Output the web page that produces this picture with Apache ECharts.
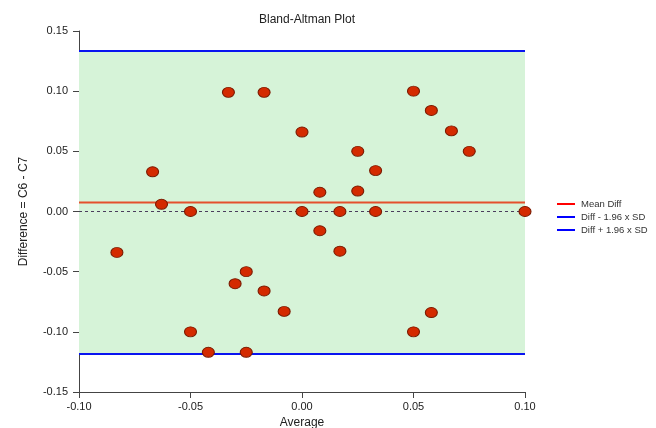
<!DOCTYPE html>
<html>
<head>
<meta charset="utf-8">
<script src="https://cdn.jsdelivr.net/npm/echarts@6/dist/echarts.min.js"></script>
<style>html,body{margin:0;padding:0;background:#fff}#c{width:656px;height:428px}</style>
</head>
<body>
<div id="c"></div>
<script>
const titleText = "Bland-Altman Plot";
const xName = "Average";
const yName = "Difference = C6 - C7";
const xTicks = [-0.10, -0.05, 0.00, 0.05, 0.10];
const yTicks = [-0.15, -0.10, -0.05, 0.00, 0.05, 0.10, 0.15];
const avgValues = [-0.083, -0.067, -0.063, -0.050, -0.050, -0.042, -0.033, -0.030, -0.025, -0.025,
                   -0.017, -0.017, -0.008, 0.000, 0.000, 0.008, 0.008, 0.017, 0.017, 0.025,
                   0.025, 0.033, 0.033, 0.050, 0.050, 0.058, 0.058, 0.067, 0.075, 0.100];
const diffValues = [-0.034, 0.033, 0.006, 0.000, -0.100, -0.117, 0.099, -0.060, -0.050, -0.117,
                    0.099, -0.066, -0.083, 0.066, 0.000, 0.016, -0.016, 0.000, -0.033, 0.050,
                    0.017, 0.034, 0.000, 0.100, -0.100, 0.084, -0.084, 0.067, 0.050, 0.000];
const meanDiff = 0.0075;
const lowerLoA = -0.1184;
const upperLoA = 0.1333;
const legendNames = ["Mean Diff", "Diff - 1.96 x SD", "Diff + 1.96 x SD"];

const pts = avgValues.map((x, i) => [x, diffValues[i]]);
const font = "Liberation Sans, Arial, sans-serif";
const chart = echarts.init(document.getElementById('c'));
chart.setOption({
  animation: false,
  textStyle: { fontFamily: font },
  title: { text: titleText, left: 302, top: 9, textAlign: 'center',
    textStyle: { fontSize: 12, fontWeight: 'normal', color: '#222', fontFamily: font } },
  grid: { left: 79, right: 131, top: 31, bottom: 36, containLabel: false, outerBoundsMode: 'none' },
  legend: {
    orient: 'vertical', left: 552, top: 194, itemWidth: 18, itemHeight: 2, itemGap: 3,
    icon: 'rect', textStyle: { fontSize: 9.5, color: '#333', fontFamily: font, padding: [0, 0, 0, 1] },
    data: [
      { name: legendNames[0], itemStyle: { color: '#ff0000' } },
      { name: legendNames[1], itemStyle: { color: '#0000ff' } },
      { name: legendNames[2], itemStyle: { color: '#0000ff' } }
    ]
  },
  xAxis: {
    type: 'value', min: xTicks[0], max: xTicks[xTicks.length - 1], interval: 0.05,
    name: xName, nameLocation: 'middle', nameGap: 25,
    nameTextStyle: { fontSize: 12, color: '#222', fontFamily: font },
    axisLine: { onZero: false, lineStyle: { color: '#444', width: 1 } },
    axisTick: { show: true, length: 6, lineStyle: { color: '#444' } },
    axisLabel: { fontSize: 11, color: '#222', margin: 9, formatter: v => v.toFixed(2) },
    splitLine: { show: false }
  },
  yAxis: {
    type: 'value', min: yTicks[0], max: yTicks[yTicks.length - 1], interval: 0.05,
    name: yName, nameLocation: 'middle', nameGap: 49,
    nameTextStyle: { fontSize: 12, color: '#222', fontFamily: font },
    axisLine: { show: true, onZero: false, lineStyle: { color: '#444', width: 1 } },
    axisTick: { show: true, length: 6, lineStyle: { color: '#444' } },
    axisLabel: { fontSize: 11, color: '#222', margin: 11, formatter: v => v.toFixed(2) },
    splitLine: { show: false }
  },
  series: [
    {
      type: 'line', name: '__band', data: [], silent: true,
      markArea: { silent: true, itemStyle: { color: '#d6f3d8' },
        data: [[{ yAxis: lowerLoA, xAxis: xTicks[0] }, { yAxis: upperLoA, xAxis: xTicks[xTicks.length - 1] }]] },
      markLine: { silent: true, symbol: 'none', label: { show: false },
        lineStyle: { type: [3, 3], color: '#4a3d5c', width: 1 },
        data: [[{ coord: [xTicks[0], 0] }, { coord: [xTicks[xTicks.length - 1], 0] }]] }
    },
    { type: 'line', name: legendNames[0], data: [[xTicks[0], meanDiff], [xTicks[xTicks.length - 1], meanDiff]],
      showSymbol: false, symbol: 'none', lineStyle: { color: '#e4502c', width: 2 }, itemStyle: { color: '#e4502c' }, silent: true },
    { type: 'line', name: legendNames[1], data: [[xTicks[0], lowerLoA], [xTicks[xTicks.length - 1], lowerLoA]],
      showSymbol: false, symbol: 'none', lineStyle: { color: '#0a14f0', width: 2 }, itemStyle: { color: '#0a14f0' }, silent: true },
    { type: 'line', name: legendNames[2], data: [[xTicks[0], upperLoA], [xTicks[xTicks.length - 1], upperLoA]],
      showSymbol: false, symbol: 'none', lineStyle: { color: '#0a14f0', width: 2 }, itemStyle: { color: '#0a14f0' }, silent: true },
    { type: 'scatter', name: 'points', data: pts, symbol: 'circle', symbolSize: [12, 10],
      itemStyle: { color: '#d42a00', borderColor: '#7a1a00', borderWidth: 1, opacity: 1 }, z: 5 }
  ]
});
</script>
</body>
</html>
